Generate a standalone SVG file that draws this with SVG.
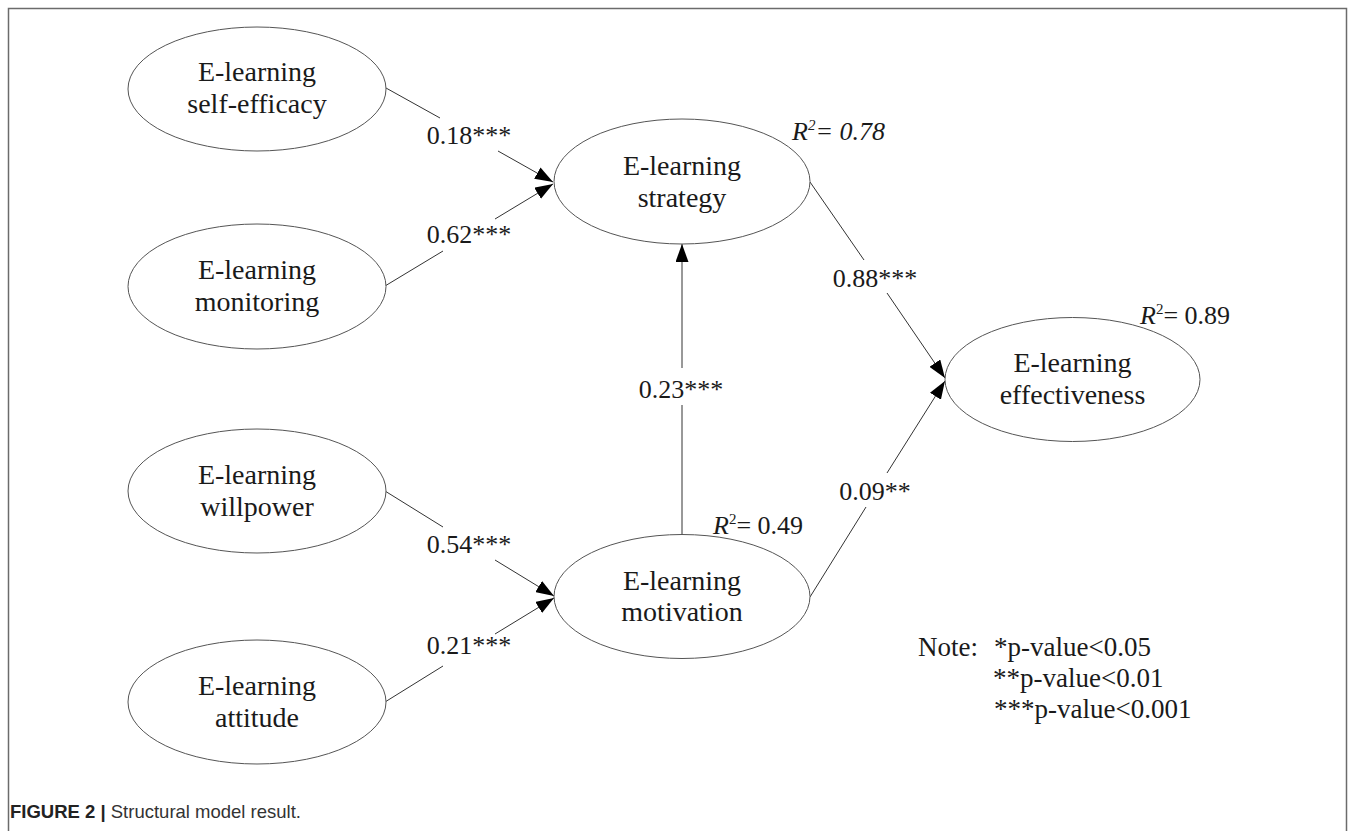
<svg xmlns="http://www.w3.org/2000/svg" width="1355" height="831" viewBox="0 0 1355 831">
<style>
.bg{fill:#ffffff}
.frame{fill:none;stroke:#6b6b6b;stroke-width:1.5}
.node ellipse{fill:#ffffff;stroke:#555555;stroke-width:1}
.node text{font-family:"Liberation Serif","Times New Roman",serif;font-size:28px;fill:#1a1a1a;text-anchor:middle}
.conn path{fill:none;stroke:#333333;stroke-width:1}
.lbl{font-family:"Liberation Serif","Times New Roman",serif;font-size:26px;fill:#1a1a1a;text-anchor:middle}
.r2{font-family:"Liberation Serif","Times New Roman",serif;font-size:26px;fill:#1a1a1a}
.note{font-family:"Liberation Serif","Times New Roman",serif;font-size:27px;fill:#1a1a1a}
.cap{font-family:"Liberation Sans",Arial,sans-serif;font-size:18.5px;fill:#333333}
</style>
<defs>
<marker id="arr" markerUnits="userSpaceOnUse" markerWidth="19" markerHeight="13" refX="18" refY="6.5" orient="auto">
<path d="M0,0 L18,6.5 L0,13 Z" fill="#000000"/>
</marker>
</defs>
<rect class="bg" x="0" y="0" width="1355" height="831"/>
<path class="frame" d="M8.5,831 V8.5 H1346.5 V831"/>

<g id="connectors" class="conn">
<path d="M386,88 L440,118 M498,151 L553,182" marker-end="url(#arr)"/>
<path d="M385,286 L443,251 M495,219 L553,184" marker-end="url(#arr)"/>
<path d="M682,534.5 L682,405 M682,368 L682,244" marker-end="url(#arr)"/>
<path d="M385,491 L443,527 M495,560 L554,596" marker-end="url(#arr)"/>
<path d="M385,702 L443,666 M495,634 L554,598" marker-end="url(#arr)"/>
<path d="M810,182 L864,260 M887,293 L945,378" marker-end="url(#arr)"/>
<path d="M810,597 L866,507 M887,473 L945,381" marker-end="url(#arr)"/>
</g>

<g id="labels">
<text class="lbl" x="469" y="144">0.18***</text>
<text class="lbl" x="469" y="243">0.62***</text>
<text class="lbl" x="469" y="553">0.54***</text>
<text class="lbl" x="469" y="654">0.21***</text>
<text class="lbl" x="681" y="398">0.23***</text>
<text class="lbl" x="875" y="287">0.88***</text>
<text class="lbl" x="875" y="500">0.09**</text>
<text class="r2" x="792" y="140" font-style="italic">R<tspan font-size="15" dy="-10">2</tspan><tspan dy="10">= 0.78</tspan></text>
<text class="r2" x="713" y="534"><tspan font-style="italic">R</tspan><tspan font-size="15" dy="-10">2</tspan><tspan dy="10">= 0.49</tspan></text>
<text class="r2" x="1140" y="324"><tspan font-style="italic">R</tspan><tspan font-size="15" dy="-10">2</tspan><tspan dy="10">= 0.89</tspan></text>
</g>

<g id="n-selfefficacy" class="node">
<ellipse cx="257" cy="89" rx="129" ry="62"/>
<text x="257" y="81">E-learning</text>
<text x="257" y="113">self-efficacy</text>
</g>
<g id="n-monitoring" class="node">
<ellipse cx="257" cy="286.5" rx="129" ry="62.5"/>
<text x="257" y="279">E-learning</text>
<text x="257" y="311">monitoring</text>
</g>
<g id="n-willpower" class="node">
<ellipse cx="257" cy="491" rx="129" ry="62"/>
<text x="257" y="484">E-learning</text>
<text x="257" y="516">willpower</text>
</g>
<g id="n-attitude" class="node">
<ellipse cx="257" cy="702" rx="129" ry="62"/>
<text x="257" y="695">E-learning</text>
<text x="257" y="727">attitude</text>
</g>
<g id="n-strategy" class="node">
<ellipse cx="682" cy="181.5" rx="128" ry="62.5"/>
<text x="682" y="175">E-learning</text>
<text x="682" y="207">strategy</text>
</g>
<g id="n-motivation" class="node">
<ellipse cx="682" cy="596.5" rx="128" ry="62"/>
<text x="682" y="590">E-learning</text>
<text x="682" y="621">motivation</text>
</g>
<g id="n-effectiveness" class="node">
<ellipse cx="1072.5" cy="379.5" rx="127.5" ry="62"/>
<text x="1072.5" y="372">E-learning</text>
<text x="1072.5" y="404">effectiveness</text>
</g>

<g id="note">
<text class="note" x="918" y="656">Note:</text>
<text class="note" x="994" y="656">*p-value&lt;0.05</text>
<text class="note" x="993" y="687">**p-value&lt;0.01</text>
<text class="note" x="994" y="718">***p-value&lt;0.001</text>
</g>

<text class="cap" x="10" y="818"><tspan font-weight="bold" fill="#222222">FIGURE 2 | </tspan>Structural model result.</text>
</svg>
